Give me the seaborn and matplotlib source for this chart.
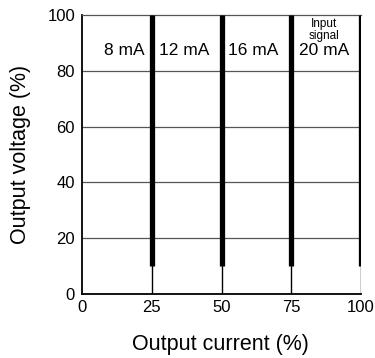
import matplotlib
matplotlib.use("Agg")
import matplotlib.pyplot as plt
import seaborn as sns
import pandas as pd

# data
current_pct = [25, 50, 75, 100]
signal_labels = ["8 mA", "12 mA", "16 mA", "20 mA"]
voltage_low = [0, 0, 0, 0]
voltage_knee = [10, 10, 10, 10]
voltage_top = [100, 100, 100, 100]
label_x = [15, 36.5, 61.5, 86.7]
label_y = 87.2

sns.set_style("white")
plt.rcParams['font.family'] = ['Liberation Sans', 'DejaVu Sans']
plt.rcParams['text.color'] = 'black'
plt.rcParams['axes.labelcolor'] = 'black'
plt.rcParams['xtick.color'] = 'black'
plt.rcParams['ytick.color'] = 'black'

fig = plt.figure(figsize=(3.75, 3.58), dpi=100)
ax = fig.add_axes([82 / 375, 1 - 294 / 358, 279 / 375, 279 / 358])

# thin part (below knee) and thick part (knee to top)
thin = pd.DataFrame({
    "x": current_pct * 2,
    "y": voltage_low + voltage_knee,
    "u": list(range(4)) * 2,
})
thick = pd.DataFrame({
    "x": current_pct * 2,
    "y": voltage_knee + voltage_top,
    "u": list(range(4)) * 2,
})

for yv in [20, 40, 60, 80]:
    ax.axhline(yv, color="#555555", lw=0.9, zorder=1)

sns.lineplot(data=thin, x="x", y="y", units="u", estimator=None, sort=False,
             color="black", lw=1.0, ax=ax, zorder=2)
sns.lineplot(data=thick, x="x", y="y", units="u", estimator=None, sort=False,
             color="black", lw=3.8, ax=ax, zorder=3, solid_capstyle="butt")

for xv, lab in zip(label_x, signal_labels):
    ax.text(xv, label_y, lab, ha="center", va="center", fontsize=12.5, zorder=4)
ax.text(86.7, 94.6, "Input\nsignal", ha="center", va="center", fontsize=8.5,
        linespacing=1.05, zorder=4)

ax.set_xlim(0, 100)
ax.set_ylim(0, 100)
ax.set_xticks([0, 25, 50, 75, 100])
ax.set_yticks([0, 20, 40, 60, 80, 100])
ax.tick_params(axis="both", length=0, labelsize=12)
ax.tick_params(axis="x", pad=4.5)
ax.tick_params(axis="y", pad=5)

for side in ["left", "bottom"]:
    ax.spines[side].set_color("black")
    ax.spines[side].set_linewidth(1.3)
ax.spines["top"].set_color("#555555")
ax.spines["top"].set_linewidth(0.9)
ax.spines["right"].set_visible(False)

ax.set_xlabel("Output current (%)", fontsize=15.5)
ax.set_ylabel("Output voltage (%)", fontsize=15.5)
ax.xaxis.set_label_coords(0.495, -0.18)
ax.xaxis.label.set_va("center")
ax.yaxis.set_label_coords(-0.22, 0.502)
ax.yaxis.label.set_va("center")

fig.savefig("out.png", dpi=100)
